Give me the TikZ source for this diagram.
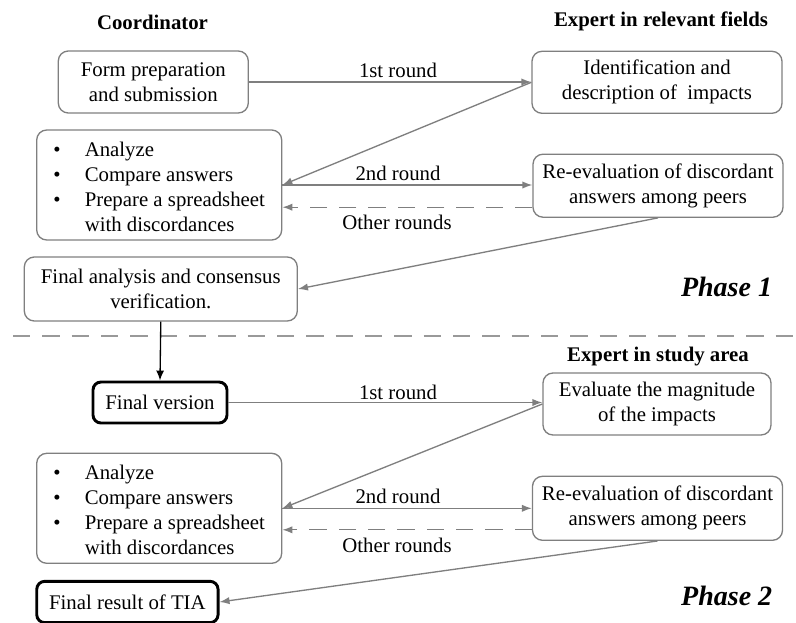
\documentclass[tikz,border=0pt]{standalone}
\usepackage{fontspec}
\setmainfont{Liberation Serif}
\usetikzlibrary{arrows.meta,calc}
\definecolor{lgray}{HTML}{7F7F7F}
\definecolor{dgray}{HTML}{999999}
\tikzset{
  txt/.style={font=\fontsize{15.6}{18.75}\selectfont, align=center, inner sep=0pt},
  box/.style={txt, draw=lgray, line width=1pt, rounded corners=7.5pt},
  thickbox/.style={txt, draw=black, line width=2.2pt, rounded corners=6pt},
  head/.style={font=\fontsize{15.6}{18.75}\selectfont\bfseries, inner sep=0pt},
  phase/.style={font=\fontsize{21}{24}\selectfont\bfseries\itshape, inner sep=0pt},
  lbl/.style={font=\fontsize{15.6}{18.75}\selectfont, inner sep=0pt},
  conn/.style={draw=lgray, line width=1pt, -{Latex[length=7.5pt,width=5.5pt]}},
  dconn/.style={conn, dash pattern=on 13pt off 9pt},
  sep/.style={draw=dgray, line width=1pt, dash pattern=on 13pt off 9pt}
}
\newcommand{\bulletlist}{\raisebox{-3pt}[\height][\depth]{\begin{tabular}{@{}p{23.5pt}@{}l@{}}\textbullet & Analyze\\ \textbullet & Compare answers\\ \textbullet & Prepare a spreadsheet\\ & with discordances\end{tabular}}}
\begin{document}
\begin{tikzpicture}[x=0.75pt,y=-0.75pt]
\useasboundingbox (0,0) rectangle (796,622);
% headers
\node[head] (h1) at (152.5,22) {Coordinator};
\node[head] (h2) at (661,21) {Expert in relevant fields};
% phase 1 boxes
\node[box, minimum width=142.5pt, minimum height=46.5pt] (A) at (153.3,82) {Form preparation\\and submission};
\node[box, minimum width=183.75pt, minimum height=82.5pt] (B) at (159.2,185) {\bulletlist};
\node[box, minimum width=204.75pt, minimum height=48pt] (C) at (160.8,289) {Final analysis and consensus\\verification.};
\node[box, minimum width=187.5pt, minimum height=46.5pt] (D) at (657,82.3) {Identification and\\description of\ \ impacts};
\node[box, minimum width=187.5pt, minimum height=47.25pt] (E) at (658,185.7) {Re-evaluation of discordant\\answers among peers};
% phase 1 labels
\node[lbl] (l1) at (398,70) {1st round};
\node[lbl] (l2) at (398,173) {2nd round};
\node[lbl] (l3) at (397,222.5) {Other rounds};
\node[phase] (p1) at (726.5,287) {Phase 1};
% phase 1 connectors
\draw[conn] (A.east) -- (A.east -| D.west);
\draw[conn] (D.west) -- (B.east);
\draw[conn] (B.east) -- (B.east -| E.west);
\coordinate (e1) at ($(E.west)+(0,21.5)$);
\draw[dconn] (e1) -- (e1 -| B.east);
\draw[conn] (E.south) -- (C.east);
% separator
\coordinate (s1) at (13,336);
\coordinate (s2) at (800,336);
\draw[sep] (s1) -- (s2);
% phase 2
\node[head] (h3) at (658,357) {Expert in study area};
\node[thickbox, minimum width=100.5pt, minimum height=30.75pt] (FV) at (160,402.5) {Final version};
\node[box, minimum width=171pt, minimum height=46.5pt] (F) at (657,404) {Evaluate the magnitude\\of the impacts};
\node[box, minimum width=183.75pt, minimum height=82.5pt] (G) at (159.2,508.3) {\bulletlist};
\node[box, minimum width=187.5pt, minimum height=48pt] (E2) at (657.5,508.3) {Re-evaluation of discordant\\answers among peers};
\node[thickbox, minimum width=136pt, minimum height=31pt] (TIA) at (127.4,602) {Final result of TIA};
\node[lbl] (m1) at (398,392) {1st round};
\node[lbl] (m2) at (398,496) {2nd round};
\node[lbl] (m3) at (397,545.5) {Other rounds};
\node[phase] (p2) at (726.7,596) {Phase 2};
\draw[line width=1pt, -{Latex[length=7.5pt,width=6pt]}] (C.south) -- (FV.north);
\draw[conn] (FV.east) -- (FV.east -| F.west);
\draw[conn] (F.west) -- (G.east);
\draw[conn] (G.east) -- (G.east -| E2.west);
\coordinate (e2) at ($(E2.west)+(0,21.5)$);
\draw[dconn] (e2) -- (e2 -| G.east);
\draw[conn] (E2.south) -- (TIA.east);
\end{tikzpicture}
\end{document}
